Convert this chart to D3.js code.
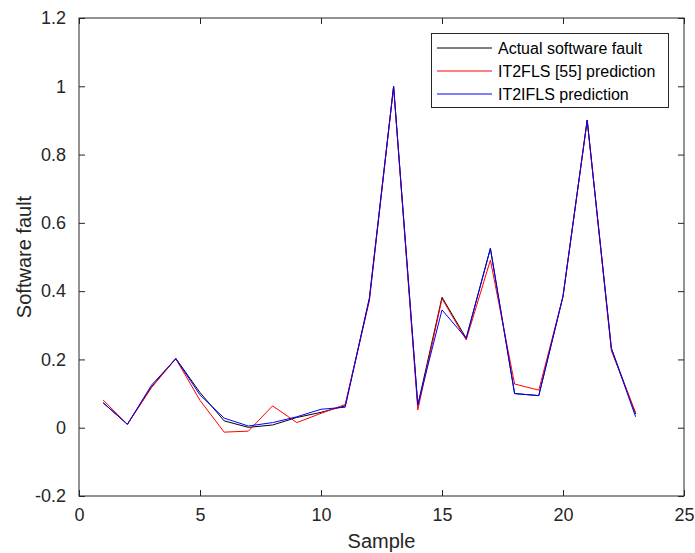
<!DOCTYPE html>
<html>
<head>
<meta charset="utf-8">
<script src="https://cdn.jsdelivr.net/npm/d3@7"></script>
<style>
  body { margin: 0; background: #fff; }
  text { font-family: "Liberation Sans", Arial, sans-serif; }
</style>
</head>
<body>
<div id="chart"></div>
<script>
// Data
const samples = d3.range(1, 24);
const actual = [0.073, 0.010, 0.120, 0.203, 0.103, 0.020, 0.001, 0.008, 0.030, 0.045, 0.064,
                0.380, 1.000, 0.066, 0.382, 0.262, 0.525, 0.100, 0.094, 0.384, 0.901, 0.232, 0.040];
const it2fls = [0.081, 0.010, 0.118, 0.202, 0.080, -0.013, -0.010, 0.064, 0.015, 0.042, 0.068,
                0.372, 0.998, 0.052, 0.378, 0.257, 0.491, 0.128, 0.110, 0.384, 0.900, 0.225, 0.044];
const it2ifls = [0.073, 0.010, 0.125, 0.202, 0.096, 0.028, 0.005, 0.015, 0.032, 0.054, 0.060,
                 0.378, 1.000, 0.066, 0.345, 0.262, 0.525, 0.100, 0.094, 0.386, 0.901, 0.232, 0.032];
const xTicks = [0, 5, 10, 15, 20, 25];
const yTicks = [-0.2, 0, 0.2, 0.4, 0.6, 0.8, 1, 1.2];
const yTickLabels = ["-0.2", "0", "0.2", "0.4", "0.6", "0.8", "1", "1.2"];

const seriesList = [
  { name: "Actual software fault", values: actual, color: "#000000" },
  { name: "IT2FLS [55] prediction", values: it2fls, color: "#ff0000" },
  { name: "IT2IFLS prediction", values: it2ifls, color: "#0000ff" }
];

const width = 695;
const height = 553;
const margin = { left: 79, right: 11, top: 18, bottom: 57 };
const axisColor = "#262626";

const svg = d3.select("#chart")
    .append("svg")
    .attr("width", width)
    .attr("height", height);

const x = d3.scaleLinear().domain([0, 25]).range([margin.left, width - margin.right]);
const y = d3.scaleLinear().domain([-0.2, 1.2]).range([height - margin.bottom, margin.top]);

// Lines
const line = d3.line()
    .x((d, i) => x(samples[i]))
    .y(d => y(d));

seriesList.forEach(s => {
    svg.append("path")
        .datum(s.values)
        .attr("d", line)
        .attr("fill", "none")
        .attr("stroke", s.color)
        .attr("stroke-width", 1);
});

// Axes (MATLAB box style, ticks inside)
const tickLen = 6;
const xAxis = d3.axisBottom(x).tickValues(xTicks).tickSize(-tickLen).tickPadding(12).tickFormat(d3.format("d"));
const yAxis = d3.axisLeft(y).tickValues(yTicks).tickSize(-tickLen).tickPadding(13)
    .tickFormat((d, i) => yTickLabels[i]);

svg.append("g")
    .attr("transform", `translate(0,${height - margin.bottom})`)
    .call(xAxis);
svg.append("g")
    .attr("transform", `translate(${margin.left},0)`)
    .call(yAxis);

// top and right ticks
svg.append("g")
    .attr("transform", `translate(0,${margin.top})`)
    .call(d3.axisTop(x).tickValues(xTicks).tickSize(-tickLen).tickFormat(""));
svg.append("g")
    .attr("transform", `translate(${width - margin.right},0)`)
    .call(d3.axisRight(y).tickValues(yTicks).tickSize(-tickLen).tickFormat(""));

svg.selectAll(".domain").remove();
svg.selectAll(".tick line").attr("stroke", axisColor);
svg.selectAll(".tick text")
    .attr("fill", axisColor)
    .style("font-size", "18px");

// box
svg.append("rect")
    .attr("x", margin.left)
    .attr("y", margin.top)
    .attr("width", width - margin.left - margin.right)
    .attr("height", height - margin.top - margin.bottom)
    .attr("fill", "none")
    .attr("stroke", axisColor)
    .attr("stroke-width", 1);

// Axis labels
svg.append("text")
    .attr("x", (margin.left + width - margin.right) / 2)
    .attr("y", 548)
    .attr("text-anchor", "middle")
    .attr("fill", axisColor)
    .style("font-size", "20px")
    .text("Sample");

svg.append("text")
    .attr("transform", `translate(31,${(margin.top + height - margin.bottom) / 2}) rotate(-90)`)
    .attr("text-anchor", "middle")
    .attr("fill", axisColor)
    .style("font-size", "20px")
    .text("Software fault");

// Legend
const legend = svg.append("g");
legend.append("rect")
    .attr("x", 431.5)
    .attr("y", 33.5)
    .attr("width", 237)
    .attr("height", 74)
    .attr("fill", "#fff")
    .attr("stroke", axisColor)
    .attr("stroke-width", 1);

seriesList.forEach((s, i) => {
    const cy = 48 + i * 23;
    legend.append("line")
        .attr("x1", 437).attr("x2", 492)
        .attr("y1", cy).attr("y2", cy)
        .attr("stroke", s.color)
        .attr("stroke-width", 1);
    legend.append("text")
        .attr("x", 498)
        .attr("y", cy)
        .attr("dy", "0.35em")
        .attr("fill", "#000")
        .style("font-size", "16px")
        .text(s.name);
});
</script>
</body>
</html>
